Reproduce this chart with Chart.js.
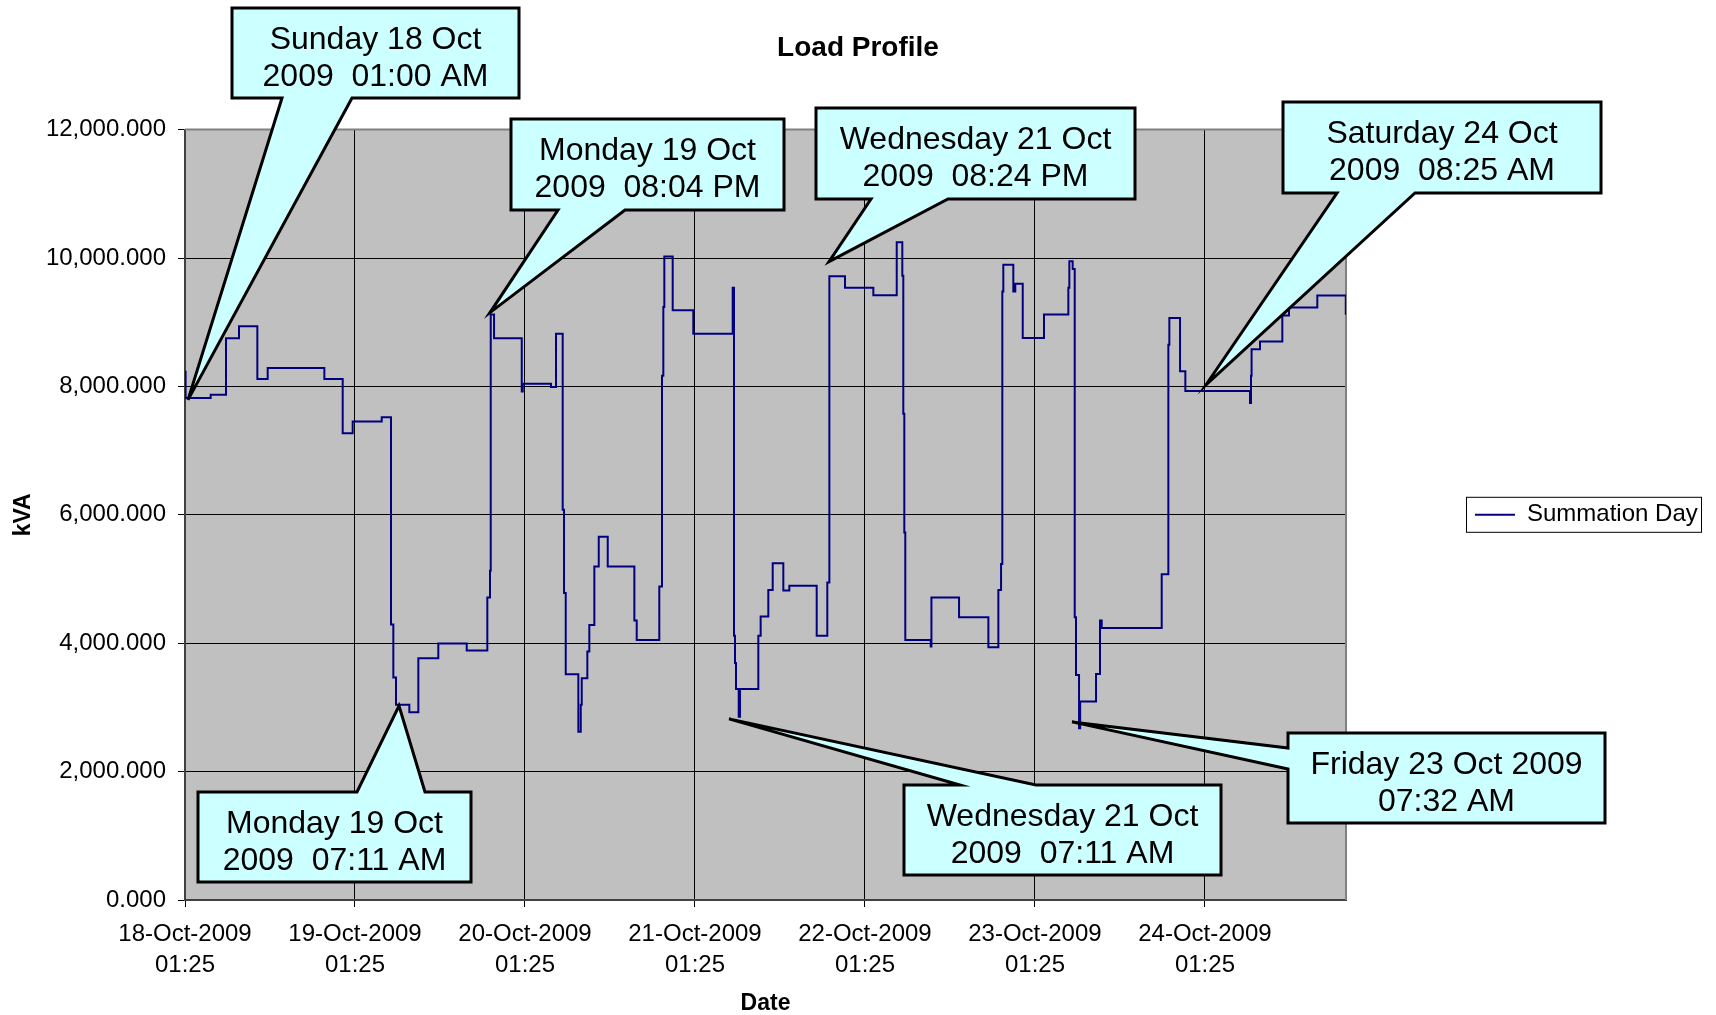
<!DOCTYPE html>
<html>
<head>
<meta charset="utf-8">
<title>Load Profile</title>
<script src="https://cdn.jsdelivr.net/npm/chart.js@4.4.0/dist/chart.umd.min.js"></script>
<style>
  html, body { margin: 0; padding: 0; background: #fff; }
  #wrap { width: 1716px; height: 1015px; position: relative; }
</style>
</head>
<body>
<div id="wrap"><canvas id="load-profile-chart"></canvas></div>
<script>
// hours since 18-Oct-2009 00:00; each kVA value holds until the next time
const hours = [1.42, 1.5, 5.04, 7.21, 9.04, 11.63, 13.09, 21.09, 23.68, 25.09, 29.19,
  30.5, 30.83, 31.21, 33.09, 34.36, 37.18, 41.19, 44.1, 44.48, 44.58, 45.05, 48.96, 49.1,
  53.09, 53.8, 54.74, 54.93, 55.17, 56.95, 57.29, 57.43, 58.22, 58.5, 59.21, 59.83, 61.1,
  64.86, 65.19, 68.38, 68.76, 68.95, 69.09, 70.27, 73.18, 78.74, 78.93, 79.07, 79.21,
  79.59, 79.78, 82.36, 82.69, 83.77, 84.39, 85.89, 86.74, 90.6, 92.1, 92.39, 94.6, 98.6,
  101.9, 102.69, 102.83, 102.97, 103.11, 106.7, 106.8, 110.7, 114.84, 116.25, 116.63,
  116.81, 116.95, 118.36, 118.64, 119.69, 122.69, 126.13, 126.27, 126.74, 127.03, 127.21,
  127.64, 127.8, 130.04, 130.6, 130.84, 139.31, 140.25, 140.39, 141.9, 142.65, 151.78,
  151.92, 152.0, 153.19, 156.34, 157.28, 161.28, 165.3];
const kva = [8230, 7820, 7870, 8750, 8935, 8115, 8285, 8115, 7270, 7455, 7520,
  4290, 3465, 3040, 2925, 3765, 3995, 3885, 4710, 5130, 9120, 8750, 7920, 8040,
  7990, 8820, 6080, 4780, 3515, 2620, 3040, 3455, 3870, 4285, 5195, 5660, 5195,
  4355, 4050, 4885, 8165, 9235, 10025, 9185, 8820, 9535, 4115, 3690, 3285,
  2855, 3285, 4115, 4415, 4830, 5245, 4820, 4895, 4115, 4945, 9715, 9535, 9420,
  10245, 9725, 7575, 5725, 4050, 3950, 4710, 4405, 3935, 4830, 5235,
  9480, 9895, 9480, 9600, 8755, 9120, 9535, 9950, 9830, 4405, 3505,
  2675, 3090, 3520, 4355, 4235, 5075, 8650, 9065, 8235, 7930, 7740,
  8165, 8580, 8700, 9105, 9230, 9415, 9115];

const tickHours = [1.4167, 25.4167, 49.4167, 73.4167, 97.4167, 121.4167, 145.4167];
const tickDates = ['18-Oct-2009', '19-Oct-2009', '20-Oct-2009', '21-Oct-2009',
  '22-Oct-2009', '23-Oct-2009', '24-Oct-2009'];
const tickTimes = ['01:25', '01:25', '01:25', '01:25', '01:25', '01:25', '01:25'];
const xMin = 1.4167;
const xMax = 165.33;

// callouts: box in px [x1, y1, x2, y2], pointer base on one side, tip in data units
const callouts = [
  { lines: ['Sunday 18 Oct', '2009  01:00 AM'], box: [232, 8, 519, 98], side: 'bottom', base: [282, 352], tip: [1.84, 7790] },
  { lines: ['Monday 19 Oct', '2009  08:04 PM'], box: [511, 119, 784, 210], side: 'bottom', base: [558, 625], tip: [44.48, 9150] },
  { lines: ['Wednesday 21 Oct', '2009  08:24 PM'], box: [816, 108, 1135, 199], side: 'bottom', base: [871, 948], tip: [92.34, 9943] },
  { lines: ['Saturday 24 Oct', '2009  08:25 AM'], box: [1283, 102, 1601, 193], side: 'bottom', base: [1337, 1415], tip: [145.57, 8026] },
  { lines: ['Monday 19 Oct', '2009  07:11 AM'], box: [198, 792, 471, 882], side: 'top', base: [357, 425], tip: [31.63, 3023] },
  { lines: ['Wednesday 21 Oct', '2009  07:11 AM'], box: [904, 785, 1221, 875], side: 'top', base: [960, 1036], tip: [78.22, 2821] },
  { lines: ['Friday 23 Oct 2009', '07:32 AM'], box: [1288, 733, 1605, 823], side: 'left', base: [748, 769], tip: [126.65, 2774] }
];

const FONT = "'Liberation Sans', Arial, sans-serif";
Chart.defaults.font.family = FONT;
Chart.defaults.color = '#000';

const plotArea = {
  id: 'plotArea',
  beforeDraw(chart) {
    const { ctx, chartArea: a } = chart;
    ctx.save();
    ctx.fillStyle = '#C0C0C0';
    ctx.fillRect(a.left, a.top, a.right - a.left, a.bottom - a.top);
    ctx.restore();
  },
  beforeDatasetsDraw(chart) {
    const { ctx, chartArea: a } = chart;
    ctx.save();
    ctx.strokeStyle = '#808080';
    ctx.lineWidth = 2;
    ctx.beginPath();
    ctx.moveTo(a.left, a.top);
    ctx.lineTo(a.right, a.top);
    ctx.lineTo(a.right, a.bottom);
    ctx.stroke();
    ctx.restore();
  }
};

const legendBox = {
  id: 'legendBox',
  beforeLayout(chart) {
    const lg = chart.legend;
    if (lg && !lg._wide) {
      const fit = lg.fit.bind(lg);
      lg.fit = function () { fit(); this.width = 370; };
      lg._wide = true;
    }
  },
  afterDraw(chart) {
    const hb = chart.legend && chart.legend.legendHitBoxes[0];
    if (!hb) return;
    const ctx = chart.ctx;
    ctx.save();
    ctx.strokeStyle = '#000';
    ctx.lineWidth = 1;
    ctx.strokeRect(hb.left - 8.5, hb.top - 5.5, 235, 35);
    ctx.restore();
  }
};

const calloutPlugin = {
  id: 'callouts',
  afterDraw(chart) {
    const { ctx, scales: { x, y } } = chart;
    ctx.save();
    callouts.forEach(c => {
      const tx = x.getPixelForValue(c.tip[0]);
      const ty = y.getPixelForValue(c.tip[1]);
      const [x1, y1, x2, y2] = c.box;
      const [a, b] = c.base;
      ctx.beginPath();
      if (c.side === 'bottom') {
        ctx.moveTo(x1, y1); ctx.lineTo(x2, y1); ctx.lineTo(x2, y2);
        ctx.lineTo(b, y2); ctx.lineTo(tx, ty); ctx.lineTo(a, y2); ctx.lineTo(x1, y2);
      } else if (c.side === 'top') {
        ctx.moveTo(x1, y1); ctx.lineTo(a, y1); ctx.lineTo(tx, ty); ctx.lineTo(b, y1);
        ctx.lineTo(x2, y1); ctx.lineTo(x2, y2); ctx.lineTo(x1, y2);
      } else {
        ctx.moveTo(x1, y1); ctx.lineTo(x2, y1); ctx.lineTo(x2, y2); ctx.lineTo(x1, y2);
        ctx.lineTo(x1, b); ctx.lineTo(tx, ty); ctx.lineTo(x1, a);
      }
      ctx.closePath();
      ctx.fillStyle = '#CCFFFF';
      ctx.fill();
      ctx.lineWidth = 3;
      ctx.lineJoin = 'miter';
      ctx.strokeStyle = '#000';
      ctx.stroke();

      ctx.fillStyle = '#000';
      ctx.font = '32px ' + FONT;
      ctx.textAlign = 'center';
      ctx.textBaseline = 'middle';
      const cx = (x1 + x2) / 2, cy = (y1 + y2) / 2;
      ctx.fillText(c.lines[0], cx, cy - 13);
      ctx.fillText(c.lines[1], cx, cy + 24);
    });
    ctx.restore();
  }
};

const fmt = v => v.toLocaleString('en-US', { minimumFractionDigits: 3, maximumFractionDigits: 3 });

new Chart(document.getElementById('load-profile-chart'), {
  type: 'line',
  data: {
    datasets: [{
      label: 'Summation Day',
      data: hours.map((h, i) => ({ x: h, y: kva[i] })),
      borderColor: '#000080',
      backgroundColor: '#000080',
      borderWidth: 2,
      pointRadius: 0,
      stepped: 'before',
      fill: false
    }]
  },
  options: {
    responsive: true,
    maintainAspectRatio: false,
    animation: false,
    layout: { padding: 0 },
    plugins: {
      tooltip: { enabled: false },
      title: {
        display: true,
        text: 'Load Profile',
        color: '#000',
        font: { size: 28, weight: 'bold' },
        padding: { top: 31, bottom: 65 }
      },
      legend: {
        position: 'right',
        fullSize: false,
        labels: {
          padding: 129,
          color: '#000',
          font: { size: 24 },
          usePointStyle: true,
          pointStyle: 'line',
          pointStyleWidth: 40
        }
      }
    },
    scales: {
      x: {
        type: 'linear',
        min: xMin,
        max: xMax,
        afterBuildTicks(scale) { scale.ticks = tickHours.map(v => ({ value: v })); },
        afterFit(scale) { scale.height = 115; },
        ticks: {
          autoSkip: false,
          maxRotation: 0,
          padding: 12,
          color: '#000',
          font: { size: 24, lineHeight: 1.3 },
          callback: (v, i) => [tickDates[i], tickTimes[i]]
        },
        grid: { color: '#000', lineWidth: 1, tickLength: 7 },
        border: { color: '#404040', width: 2 },
        title: { display: true, text: 'Date', color: '#000', font: { size: 23, weight: 'bold' }, padding: { top: 4, bottom: -2 } }
      },
      y: {
        min: 0,
        max: 12000,
        afterFit(scale) { scale.width = 185; },
        ticks: { stepSize: 2000, padding: 12, color: '#000', font: { size: 24 }, callback: fmt },
        grid: { color: '#000', lineWidth: 1, tickLength: 7 },
        border: { color: '#404040', width: 2 },
        title: { display: true, text: 'kVA', color: '#000', font: { size: 23, weight: 'bold' }, padding: { top: 10, bottom: 0 } }
      }
    }
  },
  plugins: [plotArea, legendBox, calloutPlugin]
});
</script>
</body>
</html>
